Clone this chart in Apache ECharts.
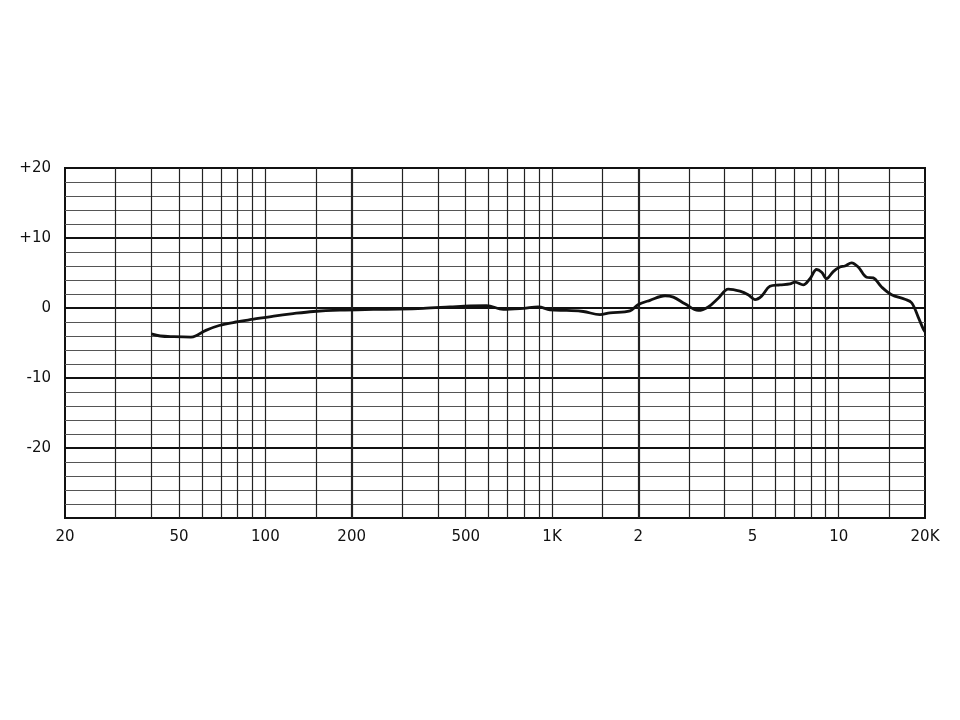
<!DOCTYPE html>
<html>
<head>
<meta charset="utf-8">
<script src="https://cdn.jsdelivr.net/npm/echarts@6/dist/echarts.min.js"></script>
<style>html,body{margin:0;padding:0;background:#fff;}#c{width:960px;height:720px;}</style>
</head>
<body>
<div id="c"></div>
<script>
// Frequency response data (Hz, dB)
const freqHz = [40, 43, 48, 55, 57, 62, 69, 79, 91, 107, 125, 147, 182, 238, 294, 355, 440, 517, 591, 676, 794, 895, 984, 1125, 1286, 1469, 1592, 1870, 2000, 2196, 2478, 2650, 2907, 3236, 3507, 3800, 4119, 4523, 4833, 5103, 5383, 5754, 6237, 6762, 7036, 7520, 7940, 8375, 8720, 9075, 9570, 10100, 10515, 11090, 11700, 12510, 13195, 14115, 15295, 17020, 17960, 18940, 19700, 20000];
const levelDb = [-3.7, -4.0, -4.1, -4.15, -4.0, -3.2, -2.5, -2.0, -1.6, -1.15, -0.8, -0.5, -0.3, -0.2, -0.15, -0.05, 0.15, 0.3, 0.35, -0.2, -0.05, 0.15, -0.25, -0.35, -0.5, -0.95, -0.7, -0.4, 0.5, 1.1, 1.75, 1.55, 0.6, -0.35, 0.15, 1.4, 2.7, 2.4, 1.9, 1.2, 1.7, 3.1, 3.3, 3.45, 3.7, 3.3, 4.2, 5.5, 5.1, 4.2, 5.2, 5.85, 6.0, 6.45, 5.85, 4.4, 4.3, 3.0, 1.9, 1.25, 0.75, -1.3, -2.95, -3.4];

// Vertical grid lines (Hz)
const gridFreqs = [30, 40, 50, 60, 70, 80, 90, 100, 150, 200, 300, 400, 500, 600, 700, 800, 900, 1000, 1500, 2000, 3000, 4000, 5000, 6000, 7000, 8000, 9000, 10000, 15000];
const boldFreqs = [200, 2000];

// X tick labels
const xTickFreqs = [20, 50, 100, 200, 500, 1000, 2000, 5000, 10000, 20000];
const xTickLabels = ['20', '50', '100', '200', '500', '1K', '2', '5', '10', '20K'];
const yAxisMin = -30;

const chart = echarts.init(document.getElementById('c'));

const gridLineData = gridFreqs.map(f => ({
  xAxis: f,
  lineStyle: { color: '#222', width: boldFreqs.includes(f) ? 2.2 : 1.2, type: 'solid' },
  label: { show: false }
}));

chart.setOption({
  animation: false,
  backgroundColor: '#fff',
  grid: { left: 65, right: 35, top: 168, bottom: 202, show: true, borderColor: '#111', borderWidth: 2, backgroundColor: 'transparent' },
  xAxis: {
    type: 'log', logBase: 10, min: 20, max: 20000,
    axisLine: { show: false }, axisTick: { show: false }, axisLabel: { show: false },
    splitLine: { show: false }, minorSplitLine: { show: false }
  },
  yAxis: {
    type: 'value', min: yAxisMin, max: 20, interval: 10,
    axisLine: { show: false }, axisTick: { show: false },
    axisLabel: {
      margin: 14, color: '#111', fontSize: 15, fontFamily: 'DejaVu Sans',
      formatter: v => v === -30 ? '' : (v > 0 ? '+' + v : String(v))
    },
    splitLine: { show: true, lineStyle: { color: '#111', width: 2 } },
    minorTick: { show: false, splitNumber: 5 },
    minorSplitLine: { show: true, lineStyle: { color: '#555', width: 1 } }
  },
  series: [{
    type: 'line',
    data: freqHz.map((f, i) => [f, levelDb[i]]),
    smooth: 0.35,
    showSymbol: false,
    lineStyle: { color: '#111', width: 2.8 },
    z: 5,
    markLine: {
      silent: true, symbol: 'none', animation: false,
      data: gridLineData
    }
  }, {
    type: 'scatter',
    silent: true,
    clip: false,
    symbolSize: 0,
    itemStyle: { opacity: 1, color: '#111' },
    data: xTickFreqs.map((f, i) => ({ value: [f, yAxisMin], name: xTickLabels[i] })),
    label: {
      show: true, position: 'bottom', distance: 12, formatter: p => p.name,
      color: '#111', opacity: 1, fontSize: 15, fontFamily: 'DejaVu Sans'
    }
  }]
});
</script>
</body>
</html>
